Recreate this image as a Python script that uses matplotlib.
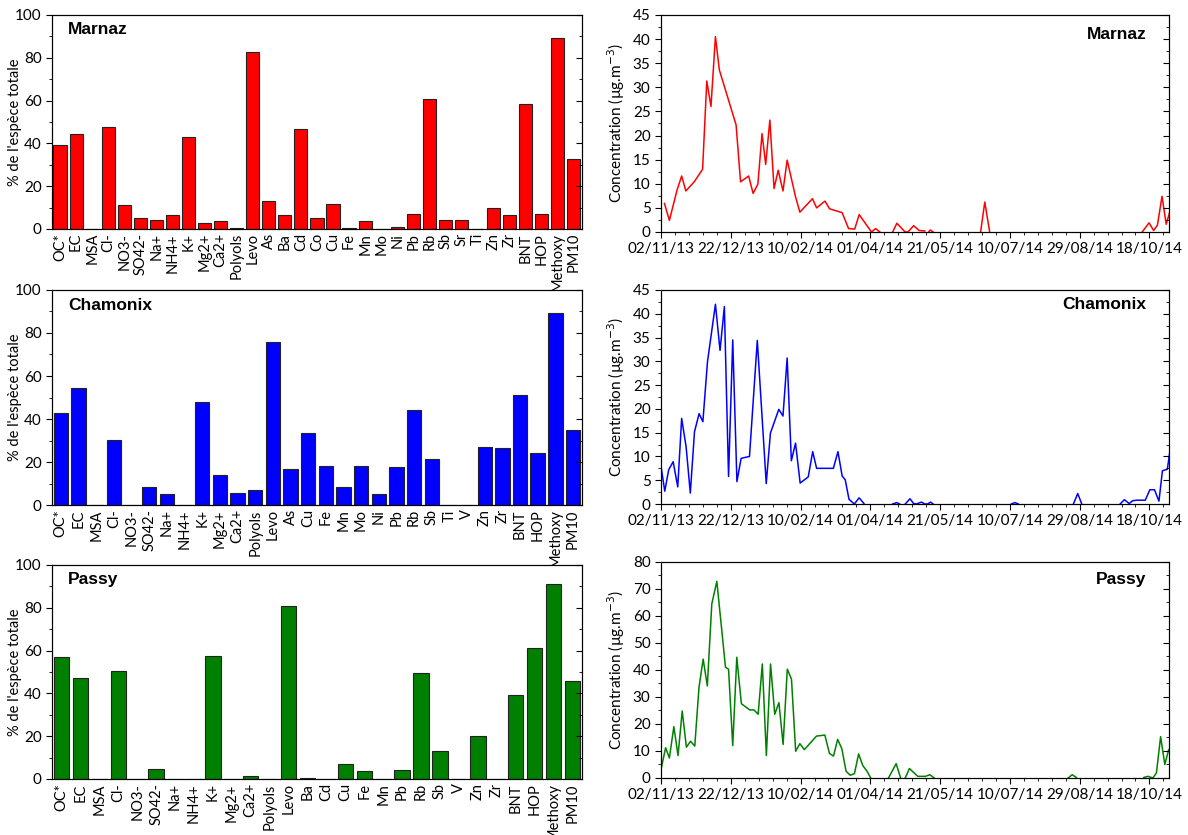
import numpy as np
import pandas as pd
import matplotlib
matplotlib.use("Agg")
import matplotlib.pyplot as plt
import matplotlib.dates as mdates
from matplotlib.ticker import MultipleLocator

plt.rcParams['font.family'] = ['Lato', 'DejaVu Sans']

# ---- bar data: % de l'espece totale ----
marnaz_cat = ['OC*', 'EC', 'MSA', 'Cl-', 'NO3-', 'SO42-', 'Na+', 'NH4+', 'K+', 'Mg2+', 'Ca2+',
              'Polyols', 'Levo', 'As', 'Ba', 'Cd', 'Co', 'Cu', 'Fe', 'Mn', 'Mo', 'Ni', 'Pb',
              'Rb', 'Sb', 'Sr', 'Ti', 'Zn', 'Zr', 'BNT', 'HOP', 'Methoxy', 'PM10']
marnaz_pct = [39.4, 44.3, 0, 47.7, 11.0, 5.1, 4.4, 6.4, 42.8, 2.8, 3.7,
              0.6, 82.9, 12.9, 6.4, 46.8, 5.1, 11.7, 0.6, 3.7, 0, 0.8, 7.2,
              60.7, 4.0, 4.0, 0, 9.6, 6.4, 58.6, 7.2, 89.1, 32.8]

chamonix_cat = ['OC*', 'EC', 'MSA', 'Cl-', 'NO3-', 'SO42-', 'Na+', 'NH4+', 'K+', 'Mg2+', 'Ca2+',
                'Polyols', 'Levo', 'As', 'Cu', 'Fe', 'Mn', 'Mo', 'Ni', 'Pb', 'Rb', 'Sb',
                'Ti', 'V', 'Zn', 'Zr', 'BNT', 'HOP', 'Methoxy', 'PM10']
chamonix_pct = [42.6, 54.6, 0, 30.2, 0, 8.5, 5.0, 0, 47.9, 13.8, 5.7,
                7.0, 75.7, 16.6, 33.3, 18.3, 8.4, 18.3, 5.0, 17.8, 44.0, 21.6,
                0, 0, 26.8, 26.4, 51.2, 24.3, 89.5, 34.9]

passy_cat = ['OC*', 'EC', 'MSA', 'Cl-', 'NO3-', 'SO42-', 'Na+', 'NH4+', 'K+', 'Mg2+', 'Ca2+',
             'Polyols', 'Levo', 'Ba', 'Cd', 'Cu', 'Fe', 'Mn', 'Pb', 'Rb', 'Sb', 'V',
             'Zn', 'Zr', 'BNT', 'HOP', 'Methoxy', 'PM10']
passy_pct = [57.1, 47.3, 0, 50.5, 0, 4.8, 0, 0, 57.5, 0, 1.4,
             0, 81.0, 0.5, 0, 7.0, 3.7, 0, 4.2, 49.5, 12.9, 0,
             19.9, 0.2, 39.2, 61.4, 91.1, 45.9]

# ---- time series: days since 02/11/13, concentration (nan = no line) ----
nan = np.nan
marnaz_day = [2.5, 6, 11.5, 14.8, 17.8, 23.8, 29.8, 32.8, 35.8, 39, 41.8, 53.8, 57, 62.8, 66,
              69.4, 72.4, 75, 78, 81, 84, 87.4, 90.4, 96.4, 99.5, 108.5, 111.5, 117.5, 120.8,
              129.8, 134.4, 138.8, 142, 150.8, 153.8, 156.8, 157,
              166, 169, 174.9, 175, 177, 181, 185, 189, 190, 192, 193, 195, 196,
              229, 232, 235.5, 236,
              344.8, 349.7, 353, 355.7, 359, 362, 365]
marnaz_val = [5.9, 2.4, 8.7, 11.6, 8.5, 10.4, 13.0, 31.3, 26.0, 40.5, 33.6, 22.2, 10.4, 11.6, 8.0,
              9.9, 20.4, 14.0, 23.2, 9.0, 12.8, 8.5, 14.9, 7.3, 4.1, 6.9, 5.0, 6.4, 4.8,
              4.0, 0.7, 0.6, 3.6, 0, 0.7, 0, nan,
              0, 1.8, 0, 0, 0, 1.3, 0.3, 0.2, nan, 0.1, 0.4, 0, nan,
              0, 6.2, 0, nan,
              0, 1.9, 0.3, 1.4, 7.4, 1.6, 4.6]

chamonix_day = [0, 2.7, 5.5, 8.7, 12, 14.8, 18, 21, 24, 27.3, 30, 33.3, 39, 42.3, 45.4, 48.4,
                51.4, 54.4, 57.4, 63.4, 69, 75.4, 78.4, 84.4, 87.4, 90.4, 93.4, 96.4, 99.7,
                105.5, 108.7, 111.5, 123.5, 126.8, 129.8, 132, 134.7, 138.5, 142, 145.4, 146,
                166, 168.9, 171, 172, 175, 178.4, 181, 183, 186.6, 189, 191, 193.2, 195, 196,
                251, 253.6, 256, 257,
                295.5, 298.6, 301.5, 302,
                329, 332, 335.5, 338, 341, 347, 350.3, 353.6, 356.8, 359.3, 362.8, 365.3]
chamonix_val = [7.9, 2.7, 7.2, 8.9, 3.6, 18.0, 12.0, 2.3, 15.2, 19.0, 17.3, 29.9, 42.0, 32.3, 41.5, 5.8,
                34.5, 4.7, 9.6, 10.0, 34.4, 4.3, 14.9, 19.9, 18.5, 30.7, 9.1, 12.8, 4.4,
                5.7, 11.0, 7.5, 7.5, 11.0, 5.9, 5.1, 1.0, 0, 1.3, 0.1, nan,
                0, 0.3, 0, nan, 0, 1.1, 0.1, 0, 0.4, 0, 0, 0.4, 0, nan,
                0, 0.3, 0, nan,
                0, 2.2, 0, nan,
                0, 0.9, 0.1, 0.7, 0.8, 0.8, 3.0, 3.0, 0.6, 7.0, 7.3, 12.4]

passy_day = [0, 3.3, 6, 9.2, 12.2, 15.2, 18.2, 21.2, 24.2, 27.2, 30.2, 33.2, 36.4, 40, 43.2, 46.2,
             48.4, 51.4, 54.3, 57.6, 63.6, 66.6, 69.6, 72.6, 75.5, 78.5, 81.5, 84.5, 87.5, 90.5,
             93.5, 96.5, 99.5, 102.7, 111.4, 117.4, 120.7, 123.6, 126.6, 129.6, 132.6, 135.6,
             138.6, 141.6, 144.6, 147.6, 150.3, 151,
             163, 168.5, 171.7, 172,
             175, 178, 184, 189.4, 192.7, 195.7, 196,
             291.8, 294.6, 297.6, 298,
             346, 349, 352.5, 355, 358, 361, 363.8]
passy_val = [3.1, 11.2, 7.4, 19.0, 8.3, 24.8, 11.4, 13.6, 11.8, 33.5, 44.0, 34.1, 64.5, 72.8, 56.5, 41.0,
             40.3, 12.0, 44.7, 27.5, 25.2, 25.2, 23.6, 42.2, 8.3, 42.2, 23.6, 27.9, 12.4, 40.3,
             36.6, 9.9, 12.7, 10.5, 15.5, 15.9, 9.1, 8.1, 14.3, 10.8, 2.5, 1.0,
             1.6, 8.9, 4.6, 2.5, 0, nan,
             0, 5.3, 0, nan,
             0, 3.5, 0.6, 0.6, 1.2, 0, nan,
             0, 1.2, 0.2, nan,
             0.2, 0.6, 0, 1.9, 15.3, 5.0, 10.5]

start = pd.Timestamp('2013-11-02')
sites = ['Marnaz', 'Chamonix', 'Passy']
colors = ['#ff0000', '#0000ff', '#008000']
bar_data = [(marnaz_cat, marnaz_pct), (chamonix_cat, chamonix_pct), (passy_cat, passy_pct)]
ts_data = [(marnaz_day, marnaz_val), (chamonix_day, chamonix_val), (passy_day, passy_val)]
ts_ymax = [45, 45, 80]
ts_major = [5, 5, 10]
title_font = ['Liberation Sans', 'DejaVu Sans']

fig = plt.figure(figsize=(11.88, 8.35), dpi=100)

bar_pos = [[0.0438, 0.7258, 0.446, 0.2563],
           [0.0438, 0.3952, 0.446, 0.2575],
           [0.0438, 0.0671, 0.446, 0.2563]]
ts_pos = [[0.5564, 0.7222, 0.4276, 0.2599],
          [0.5564, 0.3964, 0.4276, 0.2563],
          [0.5564, 0.0683, 0.4276, 0.2587]]
ts_title_y = [0.945, 0.965, 0.955]

for i in range(3):
    cats, pct = bar_data[i]
    ax = fig.add_axes(bar_pos[i])
    x = np.arange(len(cats))
    ax.bar(x, pct, width=0.82, color=colors[i], edgecolor='#222222', linewidth=0.8)
    ax.set_xlim(-0.5, len(cats) - 0.5)
    ax.set_ylim(0, 100)
    ax.set_xticks(x)
    ax.set_xticklabels(cats, rotation=90, fontsize=10.5)
    ax.tick_params(axis='x', length=0, pad=3)
    ax.yaxis.set_major_locator(MultipleLocator(20))
    ax.yaxis.set_minor_locator(MultipleLocator(10))
    ax.tick_params(axis='y', which='major', labelsize=11, length=4)
    ax.tick_params(axis='y', which='minor', length=2)
    ax.set_ylabel("% de l'espèce totale", fontsize=10.5)
    ax.yaxis.set_label_coords(-0.056, 0.5)
    ax.text(0.03, 0.965, sites[i], transform=ax.transAxes, fontsize=12.5,
            fontweight='bold', family=title_font, va='top')
    # inward ticks on the right spine
    axr = ax.twinx()
    axr.set_ylim(0, 100)
    axr.yaxis.set_major_locator(MultipleLocator(20))
    axr.yaxis.set_minor_locator(MultipleLocator(10))
    axr.tick_params(axis='y', which='both', direction='in', labelright=False)
    axr.tick_params(axis='y', which='major', length=4)
    axr.tick_params(axis='y', which='minor', length=2)

for i in range(3):
    days, vals = ts_data[i]
    dates = start + pd.to_timedelta(np.array(days, dtype=float), unit='D')
    ax = fig.add_axes(ts_pos[i])
    ax.plot(dates, vals, color=colors[i], linewidth=1.1)
    ax.set_xlim(start, start + pd.Timedelta(days=364))
    ax.set_ylim(0, ts_ymax[i])
    ticks = [start + pd.Timedelta(days=50 * k) for k in range(8)]
    ax.set_xticks(ticks)
    ax.xaxis.set_major_formatter(mdates.DateFormatter('%d/%m/%y'))
    ax.set_xticks([start + pd.Timedelta(days=10 * k) for k in range(37)], minor=True)
    ax.yaxis.set_major_locator(MultipleLocator(ts_major[i]))
    ax.yaxis.set_minor_locator(MultipleLocator(ts_major[i] / 2))
    ax.tick_params(axis='both', which='major', labelsize=11, length=4)
    ax.tick_params(axis='both', which='minor', length=2)
    ax.set_ylabel('Concentration (µg.m$^{-3}$)', fontsize=11, labelpad=4)
    ax.text(0.955, ts_title_y[i], sites[i], transform=ax.transAxes, fontsize=12.5,
            fontweight='bold', family=title_font, ha='right', va='top')
    axr = ax.twinx()
    axr.set_ylim(0, ts_ymax[i])
    axr.yaxis.set_major_locator(MultipleLocator(ts_major[i]))
    axr.yaxis.set_minor_locator(MultipleLocator(ts_major[i] / 2))
    axr.tick_params(axis='y', which='both', direction='in', labelright=False)
    axr.tick_params(axis='y', which='major', length=4)
    axr.tick_params(axis='y', which='minor', length=2)

fig.savefig('out.png', dpi=100)
